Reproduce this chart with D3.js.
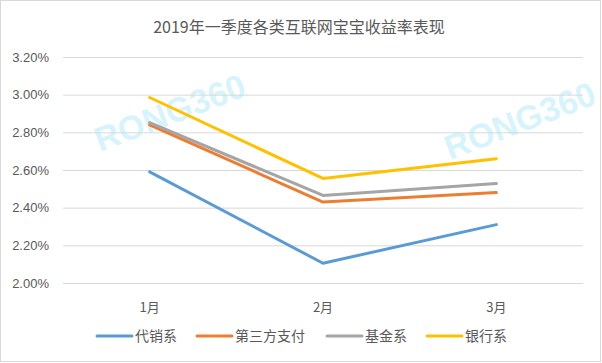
<!DOCTYPE html>
<html>
<head>
<meta charset="utf-8">
<script src="https://cdn.jsdelivr.net/npm/d3@7"></script>
<style>
  body { margin: 0; background: #fff; }
  svg { display: block; }
</style>
</head>
<body>
<svg></svg>
<script>
// data
var months = ["1月", "2月", "3月"];
var seriesNames = ["代销系", "第三方支付", "基金系", "银行系"];
var daixiao = [2.59, 2.105, 2.31];
var disanfang = [2.84, 2.43, 2.48];
var jijin = [2.852, 2.465, 2.528];
var yinhang = [2.985, 2.555, 2.66];
var yTicks = [2.0, 2.2, 2.4, 2.6, 2.8, 3.0, 3.2];
var colors = ["#5B9BD5", "#ED7D31", "#A5A5A5", "#FFC000"];

var allSeries = [daixiao, disanfang, jijin, yinhang];

var svg_width = 602;
var svg_height = 363;
var margin = { top: 57, right: 19, bottom: 80, left: 63 };
var width = svg_width - margin.left - margin.right;
var height = 283 - margin.top;

var svg = d3.select("svg")
  .attr("width", svg_width)
  .attr("height", svg_height);

svg.append("rect")
  .attr("x", 0.5).attr("y", 0.5)
  .attr("width", svg_width - 2).attr("height", svg_height - 2)
  .attr("fill", "#fff")
  .attr("stroke", "#d9d9d9");

// faint watermarks
var marks = [[100, 152], [450, 160]];
svg.selectAll(".wm")
  .data(marks)
  .enter().append("text")
  .attr("class", "wm")
  .attr("transform", function(d) { return "translate(" + d[0] + "," + d[1] + ") rotate(-21)"; })
  .attr("font-family", "Liberation Sans, Arial, sans-serif")
  .attr("font-weight", "bold")
  .attr("font-size", 34)
  .attr("fill", "#c6effc")
  .attr("fill-opacity", 0.7)
  .text("RONG360");

svg.append("text")
  .attr("x", 299).attr("y", 33)
  .attr("text-anchor", "middle")
  .attr("font-family", "Noto Sans CJK SC, sans-serif")
  .attr("font-size", 16)
  .attr("fill", "#595959")
  .text("2019年一季度各类互联网宝宝收益率表现");

var group = svg.append("g")
  .attr("transform", "translate(" + margin.left + "," + margin.top + ")");

var x = d3.scaleBand().domain(months).range([0, width]);
var y = d3.scaleLinear().domain([2.0, 3.2]).range([height, 0]);

// gridlines + y labels
group.append("g")
  .call(d3.axisLeft(y).tickValues(yTicks).tickSize(-width).tickFormat(function(d) { return d.toFixed(2) + "%"; }))
  .call(function(g) { g.select(".domain").remove(); })
  .call(function(g) {
    g.selectAll("line").attr("stroke", "#d9d9d9");
    g.selectAll("text")
      .attr("x", -14)
      .attr("fill", "#595959")
      .attr("font-family", "Liberation Sans, Arial, sans-serif")
      .attr("font-size", 13);
  });

group.append("g")
  .attr("transform", "translate(0," + height + ")")
  .call(d3.axisBottom(x).tickSize(0))
  .call(function(g) { g.select(".domain").remove(); })
  .call(function(g) {
    g.selectAll("text")
      .attr("y", 20)
      .attr("fill", "#595959")
      .attr("font-family", "Noto Sans CJK SC, sans-serif")
      .attr("font-size", 13);
  });

var line = d3.line()
  .x(function(d, i) { return x(months[i]) + x.bandwidth() / 2; })
  .y(function(d) { return y(d); });

group.selectAll(".series")
  .data(allSeries)
  .enter().append("path")
  .attr("class", "series")
  .attr("d", line)
  .attr("fill", "none")
  .attr("stroke", function(d, i) { return colors[i]; })
  .attr("stroke-width", 3)
  .attr("stroke-linecap", "round")
  .attr("stroke-linejoin", "round");

// legend
var legendX = [97, 197, 327, 427];
var legend = svg.selectAll(".legend")
  .data(seriesNames)
  .enter().append("g")
  .attr("class", "legend")
  .attr("transform", function(d, i) { return "translate(" + legendX[i] + ",336)"; });

legend.append("line")
  .attr("x1", 0).attr("x2", 35)
  .attr("stroke", function(d, i) { return colors[i]; })
  .attr("stroke-width", 3)
  .attr("stroke-linecap", "round");

legend.append("text")
  .attr("x", 38)
  .attr("dy", "0.36em")
  .attr("fill", "#595959")
  .attr("font-family", "Noto Sans CJK SC, sans-serif")
  .attr("font-size", 14)
  .text(function(d) { return d; });
</script>
</body>
</html>
